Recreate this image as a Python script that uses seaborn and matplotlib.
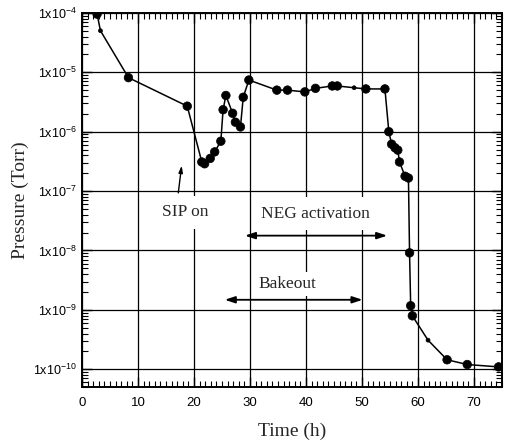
import numpy as np
import pandas as pd
import matplotlib
matplotlib.use('Agg')
import matplotlib.pyplot as plt
import seaborn as sns
from matplotlib.ticker import FixedLocator, LogLocator, MultipleLocator, NullFormatter

# Dados (tempo em horas, pressão em Torr)
tempo = [2.7, 3.3, 8.3, 18.8, 21.4, 21.9, 22.9, 23.7, 24.8, 25.2, 25.7, 26.9, 27.4,
         28.3, 28.8, 29.8, 34.8, 36.7, 39.8, 41.7, 44.7, 45.6, 48.6, 50.7, 54.1,
         54.8, 55.3, 55.9, 56.4, 56.7, 57.7, 58.3, 58.5, 58.7, 59.0, 61.8, 65.2,
         68.8, 74.4]
log_pressao = [-4.02, -4.30, -5.09, -5.57, -6.51, -6.54, -6.45, -6.34, -6.16, -5.63,
               -5.39, -5.69, -5.84, -5.92, -5.42, -5.13, -5.30, -5.30, -5.33, -5.27,
               -5.23, -5.23, -5.26, -5.28, -5.28, -6.00, -6.21, -6.27, -6.31, -6.51,
               -6.75, -6.78, -8.04, -8.93, -9.10, -9.51, -9.84, -9.92, -9.96]
tamanho = ['g', 'p', 'g', 'g', 'g', 'g', 'g', 'g', 'g', 'g', 'g', 'g', 'g',
           'g', 'g', 'g', 'g', 'g', 'g', 'g', 'g', 'g', 'p', 'g', 'g',
           'g', 'g', 'g', 'g', 'g', 'g', 'g', 'g', 'g', 'g', 'p', 'g',
           'g', 'g']

yticks = [1e-4, 1e-5, 1e-6, 1e-7, 1e-8, 1e-9, 1e-10]
ytick_labels = ['1x10$^{-4}$', '1x10$^{-5}$', '1x10$^{-6}$', '1x10$^{-7}$',
                '1x10$^{-8}$', '1x10$^{-9}$', '1x10$^{-10}$']

df = pd.DataFrame({'Tempo': tempo, 'Pressao': 10.0 ** np.array(log_pressao), 'Tam': tamanho})

sns.set_style('ticks')
plt.rcParams['font.family'] = ['Liberation Sans', 'DejaVu Sans']
plt.rcParams['mathtext.fontset'] = 'custom'
plt.rcParams['mathtext.rm'] = 'Liberation Sans'
plt.rcParams['mathtext.it'] = 'Liberation Sans'

fig = plt.figure(figsize=(5.06, 4.45), dpi=100)
ax = fig.add_axes([0.162, 0.130, 0.830, 0.841])

sns.lineplot(data=df, x='Tempo', y='Pressao', sort=False, estimator=None,
             color='black', lw=1.1, ax=ax, zorder=4)
sns.scatterplot(data=df, x='Tempo', y='Pressao', size='Tam', sizes={'g': 38, 'p': 8},
                color='black', edgecolor='black', linewidth=0.5, legend=False,
                ax=ax, zorder=5)

ax.set_yscale('log')
ax.set_xlim(0, 75)
ax.set_ylim(5e-11, 1e-4)

ax.xaxis.set_major_locator(MultipleLocator(10))
ax.xaxis.set_minor_locator(MultipleLocator(1))
ax.yaxis.set_major_locator(FixedLocator(yticks))
ax.set_yticklabels(ytick_labels)
ax.yaxis.set_minor_locator(LogLocator(base=10, subs=np.arange(2, 10), numticks=20))
ax.yaxis.set_minor_formatter(NullFormatter())

ax.tick_params(which='both', direction='in', top=True, right=True,
               color='black', labelcolor='black')
ax.tick_params(axis='y', labelsize=9)
ax.tick_params(axis='x', which='major', pad=7, labelsize=9.5)
ax.tick_params(which='major', length=7, width=1)
ax.tick_params(which='minor', length=4, width=0.8)
ax.grid(True, which='major', color='black', lw=0.9, zorder=1)
ax.set_axisbelow(True)
for s in ax.spines.values():
    s.set_linewidth(1.4)
    s.set_color('black')

ax.set_xlabel('Time (h)', family=['Liberation Serif'], fontsize=14, labelpad=10)
ax.set_ylabel('Pressure (Torr)', family=['Liberation Serif'], fontsize=14, labelpad=3)

# Anotações
caixa = dict(facecolor='white', edgecolor='none', pad=6)
ax.text(18.5, 10 ** -7.36, 'SIP on', family=['Liberation Serif'], fontsize=12.5,
        ha='center', va='center', bbox=caixa, zorder=3)
ax.text(41.7, 10 ** -7.38, 'NEG activation', family=['Liberation Serif'], fontsize=12.5,
        ha='center', va='center', bbox=caixa, zorder=3)
ax.text(36.6, 10 ** -8.56, 'Bakeout', family=['Liberation Serif'], fontsize=12.5,
        ha='center', va='center', bbox=dict(facecolor='white', edgecolor='none', pad=3), zorder=3)

seta2 = dict(arrowstyle='<|-|>,head_length=0.6,head_width=0.2', color='black', lw=1.3,
             shrinkA=0, shrinkB=0)
ax.annotate('', xy=(29.1, 10 ** -7.75), xytext=(54.5, 10 ** -7.75), arrowprops=seta2, zorder=6)
ax.annotate('', xy=(25.5, 10 ** -8.83), xytext=(50.1, 10 ** -8.83), arrowprops=seta2, zorder=6)
ax.annotate('', xy=(17.8, 10 ** -6.57), xytext=(17.2, 10 ** -7.03),
            arrowprops=dict(arrowstyle='-|>,head_length=0.4,head_width=0.12', color='black',
                            lw=1.0, shrinkA=0, shrinkB=0), zorder=6)

plt.savefig('out.png', dpi=100)
